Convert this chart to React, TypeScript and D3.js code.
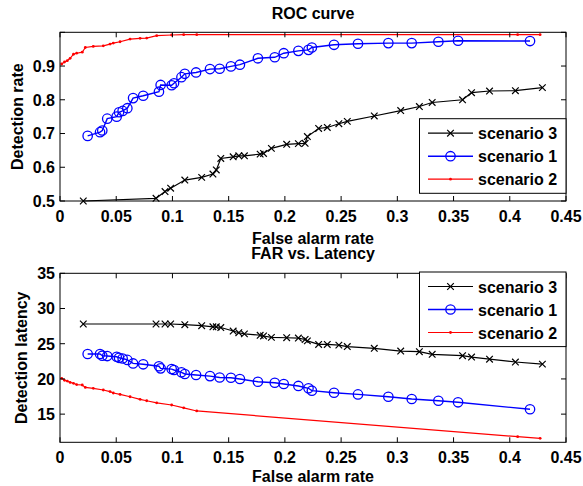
import React from 'react';
import * as d3 from 'd3';

// scenario 3 (black, x markers)
const blackFar = [0.0207, 0.0854, 0.0934, 0.0984, 0.111, 0.126, 0.136, 0.139, 0.143, 0.154, 0.159, 0.164, 0.178, 0.181, 0.188, 0.2016, 0.212, 0.218, 0.22, 0.23, 0.2377, 0.248, 0.2555, 0.2795, 0.303, 0.3196, 0.331, 0.358, 0.366, 0.382, 0.405, 0.429];
const blackDet = [0.5, 0.508, 0.528, 0.538, 0.562, 0.57, 0.58, 0.592, 0.626, 0.631, 0.634, 0.634, 0.639, 0.641, 0.656, 0.668, 0.67, 0.671, 0.691, 0.715, 0.718, 0.729, 0.736, 0.752, 0.768, 0.78, 0.792, 0.8, 0.821, 0.826, 0.827, 0.836];
const blackLat = [27.8, 27.8, 27.8, 27.8, 27.7, 27.56, 27.4, 27.4, 27.3, 26.8, 26.56, 26.4, 26.2, 26.1, 25.9, 25.85, 25.8, 25.6, 25.4, 24.9, 24.9, 24.8, 24.6, 24.35, 23.96, 23.87, 23.5, 23.3, 23.1, 22.8, 22.4, 22.1];

// scenario 1 (blue, circles)
const blueFar = [0.0246, 0.0356, 0.0376, 0.042, 0.0504, 0.0525, 0.0557, 0.0599, 0.065, 0.074, 0.088, 0.0895, 0.0993, 0.1014, 0.108, 0.111, 0.121, 0.1334, 0.142, 0.152, 0.16, 0.176, 0.191, 0.199, 0.212, 0.221, 0.224, 0.2437, 0.265, 0.292, 0.3128, 0.3365, 0.354, 0.418];
const blueDet = [0.693, 0.704, 0.709, 0.744, 0.75, 0.763, 0.767, 0.775, 0.805, 0.812, 0.824, 0.844, 0.843, 0.849, 0.867, 0.877, 0.881, 0.891, 0.892, 0.899, 0.904, 0.923, 0.926, 0.938, 0.945, 0.948, 0.955, 0.963, 0.966, 0.968, 0.968, 0.972, 0.975, 0.974];
const blueLat = [23.54, 23.54, 23.3, 23.25, 23.15, 23.0, 22.9, 22.7, 22.2, 22.08, 21.8, 21.5, 21.4, 21.27, 20.94, 20.7, 20.56, 20.4, 20.2, 20.17, 19.99, 19.6, 19.46, 19.28, 19.0, 18.67, 18.33, 18.04, 17.8, 17.47, 17.15, 16.9, 16.68, 15.69];

// scenario 2 (red, dots)
const redFar = [0.0015, 0.004, 0.0065, 0.009, 0.012, 0.0148, 0.0198, 0.0225, 0.0296, 0.0385, 0.0445, 0.0474, 0.0534, 0.0623, 0.0712, 0.0771, 0.086, 0.0993, 0.11, 0.1216, 0.407, 0.427];
const redDet = [0.906, 0.912, 0.916, 0.923, 0.935, 0.938, 0.941, 0.955, 0.958, 0.96, 0.965, 0.968, 0.972, 0.98, 0.982, 0.983, 0.99, 0.992, 0.993, 0.993, 0.993, 0.993];
const redLat = [20.09, 19.8, 19.7, 19.5, 19.38, 19.2, 19.14, 18.8, 18.67, 18.43, 18.2, 18.0, 17.8, 17.47, 17.1, 16.9, 16.6, 16.3, 15.9, 15.45, 11.8, 11.57];

const xTicks = [0, 0.05, 0.1, 0.15, 0.2, 0.25, 0.3, 0.35, 0.4, 0.45];
const detTicks = [0.5, 0.6, 0.7, 0.8, 0.9, 1.0];
const detLabels = ['0.5', '0.6', '0.7', '0.8', '0.9', ''];
const latTicks = [15, 20, 25, 30, 35];
const latLabels = ['15', '20', '25', '30', '35'];

const W = 583;
const H = 486;
const FONT = '"Liberation Sans", Arial, Helvetica, sans-serif';
const left = 60;
const right = 566;

const x = d3.scaleLinear().domain([0, 0.45]).range([left, right]);

type Series = { name: string; color: string; marker: string; xs: number[]; ys: number[]; width: number };

const Marker = ({ type, cx, cy, color }: { type: string; cx: number; cy: number; color: string }) => {
  if (type === 'x') {
    const s = 3.3;
    return (
      <path d={`M${cx - s},${cy - s}L${cx + s},${cy + s}M${cx - s},${cy + s}L${cx + s},${cy - s}`} stroke={color} strokeWidth={1.2} fill="none" />
    );
  }
  if (type === 'o') {
    return <circle cx={cx} cy={cy} r={4.7} stroke={color} strokeWidth={1.3} fill="none" />;
  }
  return <circle cx={cx} cy={cy} r={1.4} fill={color} />;
};

const Panel = ({ top, bottom, domain, yTicks, yLabels, series, title, titleY, ylabel, ylabelX, xlabelY, legendTop }: any) => {
  const y = d3.scaleLinear().domain(domain).range([bottom, top]);
  const legendH = 74.6;
  return (
    <g fontFamily={FONT} fontWeight="bold" fontSize={16}>
      <text x={(left + right) / 2} y={titleY} textAnchor="middle">{title}</text>
      {series.map((s: Series) => {
        const pts = s.xs.map((v, i) => [x(v), y(s.ys[i])] as [number, number]);
        return (
          <g key={s.name}>
            <path d={d3.line()(pts) || ''} stroke={s.color} strokeWidth={s.width} fill="none" />
            {pts.map((p, i) => <Marker key={i} type={s.marker} cx={p[0]} cy={p[1]} color={s.color} />)}
          </g>
        );
      })}
      <rect x={left} y={top} width={right - left} height={bottom - top} fill="none" stroke="#000" strokeWidth={1} />
      {xTicks.map((t) => (
        <g key={'x' + t}>
          <line x1={x(t)} x2={x(t)} y1={bottom} y2={bottom - 5} stroke="#000" />
          <line x1={x(t)} x2={x(t)} y1={top} y2={top + 5} stroke="#000" />
          <text x={x(t)} y={bottom + 20.5} textAnchor="middle">{String(+t.toFixed(2))}</text>
        </g>
      ))}
      {yTicks.map((t: number, i: number) => (
        <g key={'y' + t}>
          <line x1={left} x2={left + 5} y1={y(t)} y2={y(t)} stroke="#000" />
          <line x1={right} x2={right - 5} y1={y(t)} y2={y(t)} stroke="#000" />
          <text x={left - 5} y={y(t) + 5.8} textAnchor="end">{yLabels[i]}</text>
        </g>
      ))}
      <text x={(left + right) / 2} y={xlabelY} textAnchor="middle">False alarm rate</text>
      <text transform={`translate(${ylabelX},${(top + bottom) / 2}) rotate(-90)`} textAnchor="middle">{ylabel}</text>
      <g>
        <rect x={419.5} y={legendTop} width={right - 419.5} height={legendH} fill="#fff" stroke="#000" strokeWidth={1} />
        {series.map((s: Series, i: number) => {
          const ly = legendTop + 14.5 + i * 23;
          return (
            <g key={'l' + s.name}>
              <line x1={428} x2={473} y1={ly} y2={ly} stroke={s.color} strokeWidth={s.width} />
              <Marker type={s.marker} cx={450.5} cy={ly} color={s.color} />
              <text x={478} y={ly + 6}>{s.name}</text>
            </g>
          );
        })}
      </g>
    </g>
  );
};

export default function App() {
  const rocSeries: Series[] = [
    { name: 'scenario 3', color: '#000', marker: 'x', xs: blackFar, ys: blackDet, width: 1.2 },
    { name: 'scenario 1', color: '#0000ff', marker: 'o', xs: blueFar, ys: blueDet, width: 1.4 },
    { name: 'scenario 2', color: '#ff0000', marker: '.', xs: redFar, ys: redDet, width: 1.2 },
  ];
  const latSeries: Series[] = [
    { name: 'scenario 3', color: '#000', marker: 'x', xs: blackFar, ys: blackLat, width: 1.2 },
    { name: 'scenario 1', color: '#0000ff', marker: 'o', xs: blueFar, ys: blueLat, width: 1.4 },
    { name: 'scenario 2', color: '#ff0000', marker: '.', xs: redFar, ys: redLat, width: 1.2 },
  ];
  return (
    <svg width={W} height={H} style={{ position: 'absolute', left: 0, top: 0, background: '#fff' }}>
      <rect width={W} height={H} fill="#fff" />
      <Panel top={32.3} bottom={201} domain={[0.5, 1.0]} yTicks={detTicks} yLabels={detLabels} series={rocSeries}
        title="ROC curve" titleY={19} ylabel="Detection rate" ylabelX={23} xlabelY={244.3} legendTop={118.7} />
      <Panel top={273.3} bottom={442.3} domain={[11, 35]} yTicks={latTicks} yLabels={latLabels} series={latSeries}
        title="FAR vs. Latency" titleY={259.3} ylabel="Detection latency" ylabelX={27} xlabelY={481.5} legendTop={272} />
    </svg>
  );
}
